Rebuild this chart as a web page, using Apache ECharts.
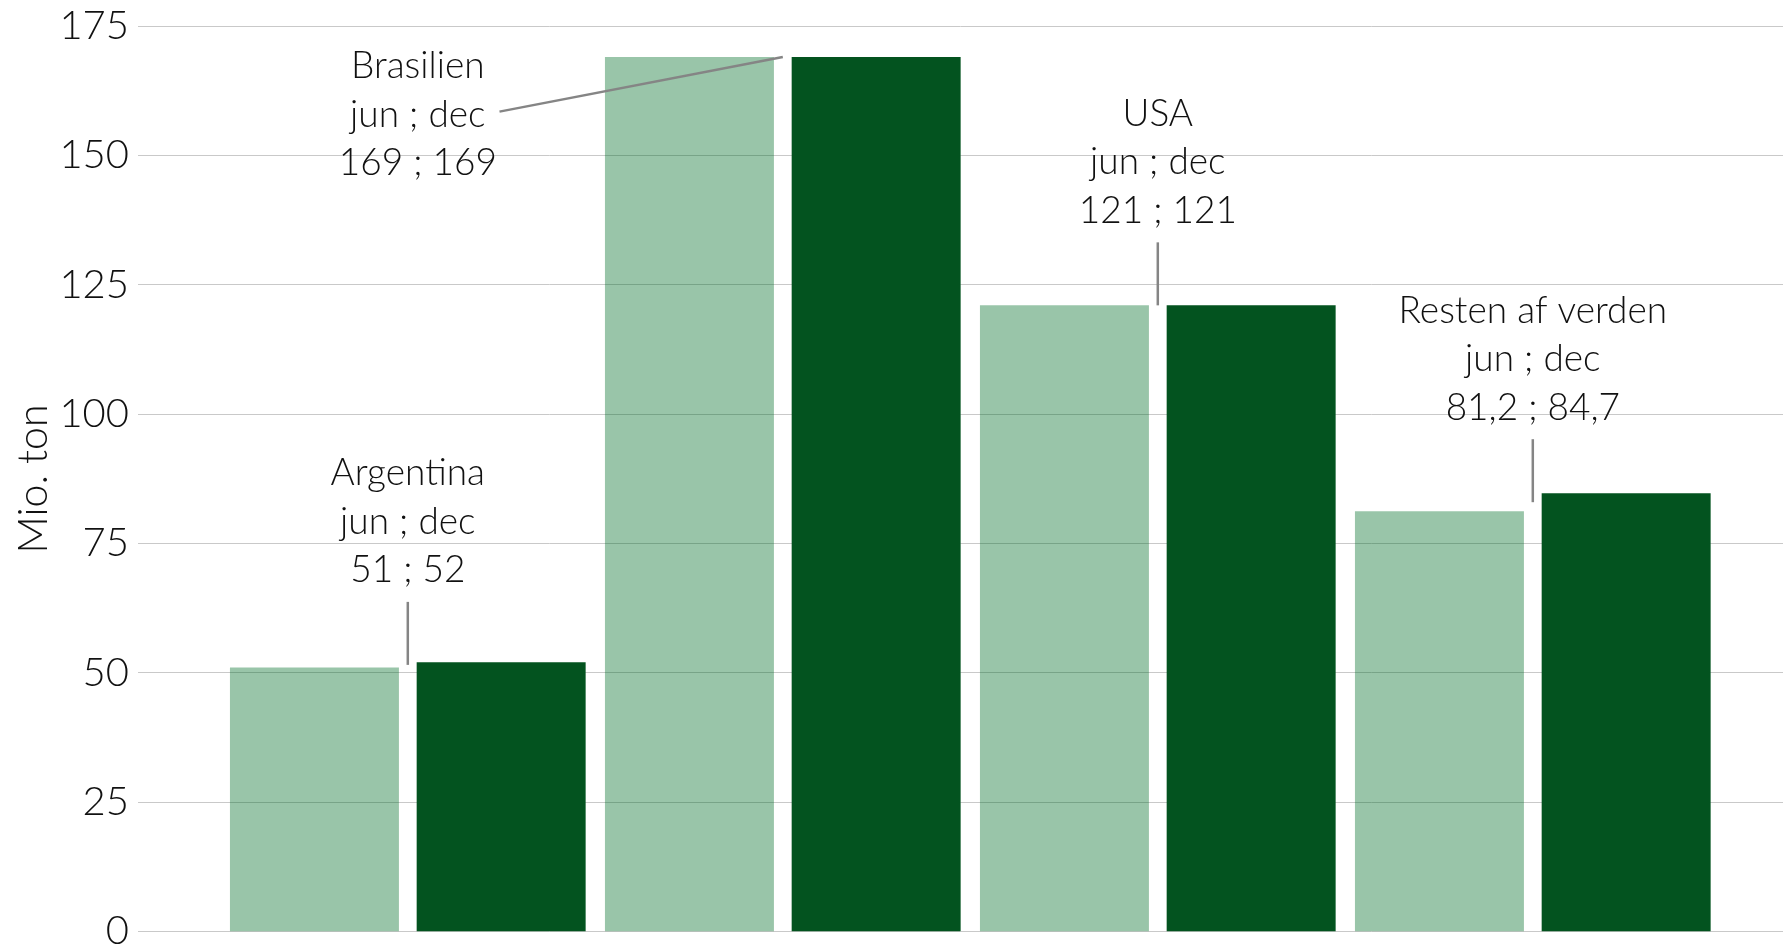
<!DOCTYPE html>
<html>
<head>
<meta charset="utf-8">
<script src="https://cdn.jsdelivr.net/npm/echarts@6/dist/echarts.min.js"></script>
<style>
  html, body { margin: 0; padding: 0; background: #ffffff; }
  #chart { width: 1783px; height: 948px; }
</style>
</head>
<body>
<div id="chart"></div>
<script>
// ---- data ----
const categories = ['Argentina', 'Brasilien', 'USA', 'Resten af verden'];
const seriesNames = ['jun', 'dec'];
const junValues = [51, 169, 121, 81.2];
const decValues = [52, 169, 121, 84.7];
const yMin = 0;
const yMax = 175;
const yInterval = 25;
const yAxisTitle = 'Mio. ton';

// ---- styling ----
const TEXT_FONT = "Lato, 'Liberation Sans', sans-serif";
const ANN_SIZE = 37;
const LINE_STEP = 48.5;
const TOP = 26, BOTTOM = 948 - 931.3;

const fmt = v => String(v).replace('.', ',');

const chart = echarts.init(document.getElementById('chart'), null, { renderer: 'canvas' });

const option = {
  backgroundColor: '#ffffff',
  animation: false,
  grid: [
    { left: 138, right: 0, top: TOP, bottom: BOTTOM, containLabel: false, outerBoundsMode: 'none' },
    { left: 220.3, right: 62.7, top: TOP, bottom: BOTTOM, containLabel: false, outerBoundsMode: 'none' }
  ],
  xAxis: [
    { gridIndex: 0, type: 'value', min: 0, max: 1, show: false },
    { gridIndex: 1, type: 'category', data: categories,
      axisLine: { show: false }, axisTick: { show: false }, axisLabel: { show: false }, splitLine: { show: false } }
  ],
  yAxis: [
    { gridIndex: 0, type: 'value', min: yMin, max: yMax, interval: yInterval,
      axisLine: { show: false }, axisTick: { show: false },
      axisLabel: { fontFamily: TEXT_FONT, fontWeight: 300, fontSize: 40, color: '#111111', margin: 9 },
      splitLine: { lineStyle: { color: '#c9c9c9', width: 1 } } },
    { gridIndex: 1, type: 'value', min: yMin, max: yMax, interval: yInterval, show: false }
  ],
  series: [
    { name: seriesNames[0], type: 'bar', xAxisIndex: 1, yAxisIndex: 1, data: junValues,
      itemStyle: { color: 'rgba(0,110,40,0.4)' }, barGap: '10.5%', barCategoryGap: '5.15%' },
    { name: seriesNames[1], type: 'bar', xAxisIndex: 1, yAxisIndex: 1, data: decValues,
      itemStyle: { color: '#03531f' }, barGap: '10.5%', barCategoryGap: '5.15%' }
  ]
};
chart.setOption(option);

// ---- annotations (anchored to data through the axes) ----
function textEl(x, baseline, str, size) {
  return {
    type: 'text', x: x, y: baseline - 0.32 * size, silent: true, z: 10,
    style: { text: str, fontFamily: TEXT_FONT, fontWeight: 300, fontSize: size,
             fill: '#111111', align: 'center', verticalAlign: 'middle' }
  };
}
function lineEl(x1, y1, x2, y2) {
  return { type: 'line', silent: true, z: 9,
    shape: { x1: x1, y1: y1, x2: x2, y2: y2 },
    style: { stroke: '#858585', lineWidth: 2.5 } };
}

const graphics = [];
// y axis title
graphics.push({
  type: 'text', x: 34, y: 479, rotation: Math.PI / 2, silent: true,
  style: { text: yAxisTitle, fontFamily: TEXT_FONT, fontWeight: 300, fontSize: 41,
           fill: '#111111', align: 'center', verticalAlign: 'middle' }
});

categories.forEach((name, i) => {
  const mean = (junValues[i] + decValues[i]) / 2;
  const p = chart.convertToPixel({ xAxisIndex: 1, yAxisIndex: 1 }, [i, mean]);
  const cx = p[0], cy = p[1];
  const lines = [name, seriesNames.join(' ; '), fmt(junValues[i]) + ' ; ' + fmt(decValues[i])];
  if (name === 'Brasilien') {
    const tx = cx - 365, midBase = cy + 69.6;
    graphics.push(lineEl(cx, cy, cx - 283.3, cy + 54.6));
    lines.forEach((t, k) => graphics.push(textEl(tx, midBase + (k - 1) * LINE_STEP, t, ANN_SIZE)));
  } else {
    const top = cy - 63;
    graphics.push(lineEl(cx, cy, cx, top));
    const lastBase = top - 19.5;
    lines.forEach((t, k) => graphics.push(textEl(cx, lastBase - (2 - k) * LINE_STEP, t, ANN_SIZE)));
  }
});

chart.setOption({ graphic: graphics });
</script>
</body>
</html>
